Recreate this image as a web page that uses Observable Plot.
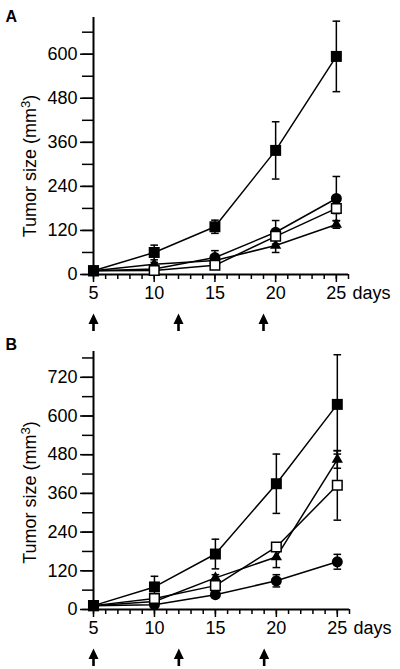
<!DOCTYPE html>
<html><head><meta charset="utf-8">
<script src="https://cdn.jsdelivr.net/npm/d3@7"></script>
<script src="https://cdn.jsdelivr.net/npm/@observablehq/plot@0.6"></script>
<style>body{margin:0;background:#fff;} #chart svg{display:block;}</style>
</head><body><div id="chart"></div>
<script>
const days = [5, 10, 15, 20, 25];
const xTickLabels = [5, 10, 15, 20, 25];
const arrowDays = [5, 12, 19];
const yLabel = "Tumor size (mm3)";
const xUnit = "days";

// Panel A
const aYTicks = [0, 120, 240, 360, 480, 600];
const aFilledSquare = [10, 60, 130, 338, 594];
const aFilledSquareErr = [0, 20, 18, 78, 96];
const aFilledCircle = [10, 15, 46, 115, 207];
const aFilledCircleErr = [0, 5, 19, 32, 60];
const aOpenSquare = [10, 11, 25, 104, 180];
const aOpenSquareErr = [0, 3, 6, 10, 14];
const aTriangle = [10, 28, 38, 79, 136];
const aTriangleErr = [0, 5, 8, 19, 10];

// Panel B
const bYTicks = [0, 120, 240, 360, 480, 600, 720];
const bFilledSquare = [12, 70, 172, 390, 636];
const bFilledSquareErr = [0, 33, 46, 92, 154];
const bFilledCircle = [12, 15, 46, 89, 148];
const bFilledCircleErr = [0, 5, 10, 19, 23];
const bOpenSquare = [12, 34, 74, 194, 385];
const bOpenSquareErr = [0, 5, 8, 10, 108];
const bTriangle = [12, 25, 98, 163, 465];
const bTriangleErr = [0, 5, 10, 33, 27];

function rowsOf(series) {
  const out = [];
  for (const [name, vals, errs] of series) {
    days.forEach((d, i) => out.push({series: name, day: d, value: vals[i], err: errs[i]}));
  }
  return out;
}

const capSymbol = {draw(ctx) { ctx.moveTo(-3.8, 0); ctx.lineTo(3.8, 0); }};
const arrowSymbol = {draw(ctx) {
  ctx.moveTo(0, -9); ctx.lineTo(5, 1.5); ctx.lineTo(1.3, 1.5); ctx.lineTo(1.3, 8.5);
  ctx.lineTo(-1.3, 8.5); ctx.lineTo(-1.3, 1.5); ctx.lineTo(-5, 1.5); ctx.closePath();
}};

const FONT = 18;

function makePanel({letter, rows, yMax, yTicks, height, marginTop, marginBottom, marginRight, letterDy, labelDy}) {
  const errRows = rows.filter(d => d.err > 0);
  const sel = s => rows.filter(d => d.series === s);
  const svg = Plot.plot({
    width: 400, height, marginLeft: 93, marginRight, marginTop, marginBottom,
    style: {fontFamily: "'Liberation Sans', Arial, sans-serif", fontSize: FONT + "px", color: "black", background: "white", overflow: "visible"},
    x: {domain: [5, 26]},
    y: {domain: [0, yMax]},
    marks: [
      Plot.axisY({ticks: d3.range(0, yMax, 60), tickSize: 11, text: null, label: null, strokeWidth: 1.5}),
      Plot.axisY({ticks: yTicks, tickSize: 13, tickPadding: 3, fontSize: FONT, label: null, strokeWidth: 1.5}),
      Plot.axisX({ticks: d3.range(5, 27), tickSize: 5, text: null, label: null, strokeWidth: 1.5}),
      Plot.axisX({ticks: xTickLabels, tickSize: 8, tickPadding: 4, fontSize: FONT, label: null, strokeWidth: 1.5}),
      Plot.ruleX([5], {x: d => d, y1: 0, y2: yMax, strokeWidth: 2}),
      Plot.ruleY([0], {y: d => d, x1: 5, x2: 26, strokeWidth: 2}),
      Plot.text([xUnit], {text: d => d, x: 26, frameAnchor: "bottom", textAnchor: "start", lineAnchor: "top", dx: 4, dy: 12, fontSize: FONT}),
      Plot.line(rows, {x: "day", y: "value", z: "series", stroke: "black", strokeWidth: 1.5}),
      Plot.ruleX(errRows, {x: "day", y1: d => d.value - d.err, y2: d => d.value + d.err, stroke: "black", strokeWidth: 1.5}),
      Plot.dot(errRows, {x: "day", y: d => d.value - d.err, symbol: capSymbol, fill: "none", stroke: "black", strokeWidth: 1.5}),
      Plot.dot(errRows, {x: "day", y: d => d.value + d.err, symbol: capSymbol, fill: "none", stroke: "black", strokeWidth: 1.5}),
      Plot.dot(sel("filledCircle"), {x: "day", y: "value", symbol: "circle", r: 5.5, fill: "black", stroke: "none"}),
      Plot.dot(sel("triangle"), {x: "day", y: "value", symbol: "triangle", r: 4.2, fill: "black", stroke: "none"}),
      Plot.dot(sel("openSquare"), {x: "day", y: "value", symbol: "square", r: 5.4, fill: "white", stroke: "black", strokeWidth: 1.5}),
      Plot.dot(sel("filledSquare"), {x: "day", y: "value", symbol: "square", r: 6.2, fill: "black", stroke: "none"}),
      Plot.dot(arrowDays, {x: d => d, frameAnchor: "bottom", dy: 48, symbol: arrowSymbol, fill: "black", stroke: "none"}),
      Plot.text([letter], {text: d => d, frameAnchor: "top-left", textAnchor: "start", lineAnchor: "top", dx: -88, dy: letterDy, fontWeight: "bold", fontSize: 16}),
      Plot.text([yLabel], {text: d => d, frameAnchor: "left", textAnchor: "middle", lineAnchor: "middle", rotate: -90, dx: -63, dy: labelDy, fontSize: FONT})
    ]
  });
  d3.select(svg).selectAll("text").each(function() {
    if (this.textContent === yLabel) {
      const t = d3.select(this);
      t.text(null);
      t.append("tspan").text("Tumor size (mm");
      t.append("tspan").attr("dy", "-0.5em").attr("font-size", "0.72em").text("3");
      t.append("tspan").attr("dy", "0.36em").text(")");
    }
  });
  d3.select(svg).selectAll("g[aria-label$='tick label']").style("font-size", FONT + "px");
  return svg;
}

const rowsA = rowsOf([
  ["filledSquare", aFilledSquare, aFilledSquareErr],
  ["filledCircle", aFilledCircle, aFilledCircleErr],
  ["openSquare", aOpenSquare, aOpenSquareErr],
  ["triangle", aTriangle, aTriangleErr]
]);
const rowsB = rowsOf([
  ["filledSquare", bFilledSquare, bFilledSquareErr],
  ["filledCircle", bFilledCircle, bFilledCircleErr],
  ["openSquare", bOpenSquare, bOpenSquareErr],
  ["triangle", bTriangle, bTriangleErr]
]);

const chart = document.getElementById("chart");
chart.append(makePanel({letter: "A", rows: rowsA, yMax: 700, yTicks: aYTicks, height: 332, marginTop: 17, marginBottom: 58, marginRight: 52, letterDy: -7, labelDy: 20}));
chart.append(makePanel({letter: "B", rows: rowsB, yMax: 800, yTicks: bYTicks, height: 337, marginTop: 19, marginBottom: 60, marginRight: 51, letterDy: -13, labelDy: 12}));
</script>
</body></html>
